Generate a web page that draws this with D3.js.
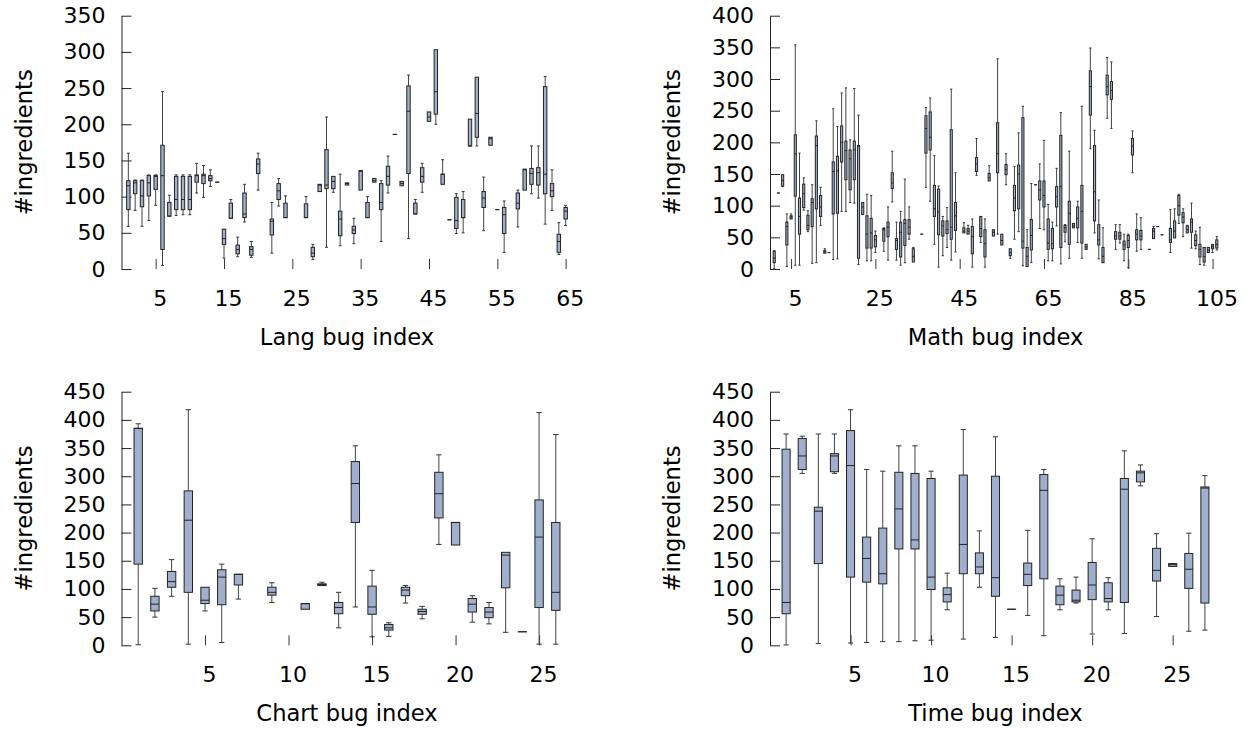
<!DOCTYPE html>
<html><head><meta charset="utf-8">
<script src="https://cdn.jsdelivr.net/npm/d3@7"></script>
<style>
html,body{margin:0;padding:0;background:#fff;}
svg text{font-family:"DejaVu Sans",Verdana,sans-serif;fill:#000;}
</style></head>
<body>
<svg id="c" width="1250" height="732"></svg>
<script>
// Columns: [bug index, whisker low, Q1, median, Q3, whisker high]
const langBoxes = [
[1,59,82,115,122,160],[2,81,104,119,122,123],[3,59,86,101,122,123],[4,67,101,119,129,130],
[5,88,110,128,129,130],[6,5,27,129,171,245],[7,73,73,73,92,102],[8,74,82,96,128,130],
[9,75,82,96,128,130],[10,75,82,96,128,130],[11,105,120,129,130,146],[12,99,118,129,131,143],
[13,114,122,125,129,137],[14,120,120,120,120,120],[15,15,34,42,55,55],[16,70,70,70,91,96],
[17,17,21,27,33,44],[18,65,71,76,105,117],[19,16,19,27,31,38],[20,109,132,145,152,160],
[22,22,47,66,69,92],[23,87,96,108,118,125],[24,71,71,71,91,101],[27,71,71,71,90,100],
[28,13,17,22,30,34],[29,107,107,116,117,117],[30,30,111,116,165,210],[31,106,111,121,128,128],
[32,32,46,69,80,131],[33,116,116,118,119,119],[34,35,49,54,59,70],[35,109,109,135,136,136],
[36,71,71,71,92,100],[37,120,120,122,125,125],[38,38,82,92,118,122],[39,105,116,128,142,156],
[40,186,186,186,186,186],[41,115,115,118,121,121],[42,42,132,218,253,268],[43,76,76,76,91,96],
[44,106,120,128,140,146],[45,204,204,210,217,217],[46,200,214,245,303,303],[47,117,117,131,131,151],
[48,68,68,68,68,68],[49,49,56,67,99,104],[50,50,71,71,96,107],[51,170,170,170,207,207],
[52,170,182,215,265,265],[53,53,85,98,107,127],[54,171,171,180,182,182],[55,82,82,82,82,82],
[56,23,49,75,85,94],[58,58,83,91,105,109],[59,109,109,137,138,138],[60,104,117,132,139,170],
[61,98,116,133,140,170],[62,62,104,131,252,266],[63,81,100,108,118,137],[64,20,23,38,48,64],
[65,60,69,80,85,88]
];
const mathBoxes = [
[1,0.5,10,17,28,29],[2,120,120,120,120,120],[3,130,131,140,149,149],[4,4,38,67,74,87],
[5,79,79,82,84,87],[6,6,115,182,212,354],[7,6,55,83,112,183],[8,93,97,119,134,144],
[9,59,62,69,85,92],[10,9,67,105,111,133],[11,10,95,195,210,234],[12,69,83,98,116,129],
[13,25,25,27,29,32],[14,26,26,26,26,26],[15,15,87,154,169,253],[16,16,88,155,178,225],
[17,91,169,200,226,278],[18,91,141,187,202,286],[19,105,125,174,188,204],[20,104,141,188,202,285],
[21,7,17,194,195,243],[22,86,86,98,105,105],[23,13,33,55,84,118],[24,13,33,57,80,116],
[25,26,35,46,53,60],[27,28,44,62,64,65],[28,14,51,66,74,98],[29,106,127,136,152,186],
[30,14,31,45,48,74],[31,6,19,58,74,91],[32,10,37,72,78,142],[33,47,55,66,78,98],
[34,11,11,20,32,34],[36,55,55,55,55,55],[37,129,183,222,242,255],[38,107,188,208,248,270],
[39,39,83,95,132,179],[40,3,54,90,126,131],[41,21,52,68,76,83],[42,34,56,62,76,97],
[43,14,47,66,220,284],[44,27,61,84,105,152],[46,57,57,60,65,73],[47,55,55,60,64,69],
[48,3,24,51,67,79],[49,148,154,166,176,206],[50,42,51,64,83,83],[51,3,19,40,62,79],
[52,139,139,144,151,163],[53,52,52,58,62,62],[54,55,152,182,231,332],[55,38,38,45,55,55],
[56,133,149,157,165,182],[57,17,21,26,32,32],[58,47,92,112,132,162],[59,59,95,150,164,215],
[60,5,33,44,239,257],[61,4,4,20,34,62],[62,10,30,53,78,135],[63,133,133,133,133,133],
[64,64,109,125,139,166],[65,62,98,116,139,203],[66,13,31,41,79,102],[67,13,32,40,64,74],
[68,68,98,114,130,159],[69,8,34,130,211,247],[70,43,58,65,69,70],[71,17,39,88,107,186],
[72,65,65,68,72,72],[73,42,65,80,98,107],[74,17,41,91,132,257],[75,31,31,35,39,39],
[76,190,243,288,313,349],[77,57,76,122,195,219],[78,16,38,46,70,109],[79,10,10,20,34,65],
[80,238,275,288,306,334],[81,222,268,282,296,327],[82,31,47,52,59,70],[83,41,47,52,58,70],
[84,13,31,38,44,55],[85,2,34,45,53,55],[86,152,180,194,206,218],[87,28,46,55,62,87],
[88,31,46,52,61,81],[90,31,31,31,31,31],[91,48,48,60,64,67],[92,67,67,67,67,67],
[93,54,54,54,54,54],[95,26,42,46,64,94],[96,49,49,60,76,95],[97,72,85,100,116,118],
[98,51,73,82,89,95],[99,57,57,62,68,69],[100,33,58,74,79,104],[101,32,37,45,54,60],
[102,7,19,31,39,66],[103,6,11,20,34,34],[104,26,26,30,34,34],[105,26,32,35,38,39],
[106,30,33,39,46,51]
];
const chartBoxes = [
[1,1,144,385,385,393],[2,50,61,73,87,101],[3,87,103,113,131,152],[4,2,94,222,274,418],
[5,61,74,80,103,103],[6,5,72,121,134,144],[7,82,107,126,126,126],[9,76,89,94,103,111],
[11,64,64,74,74,74],[12,106,106,108,109,112],[13,31,56,67,76,94],[14,68,218,287,326,354],
[15,15,55,68,105,133],[16,16,27,31,37,40],[17,75,88,98,103,106],[18,47,55,60,64,69],
[19,179,226,269,307,338],[20,178,178,218,218,218],[21,41,59,73,83,88],[22,38,49,59,67,76],
[23,23,102,160,165,165],[24,24,24,24,24,24],[25,2,67,192,258,413],[26,2,62,94,218,374]
];
const timeBoxes = [
[1,0.6,56,76,348,375],[2,305,312,336,367,371],[3,3,145,238,245,375],[4,305,308,336,340,375],
[5,4,121,319,381,418],[6,5,112,154,192,312],[7,6.5,109,127,208,309],[8,6.5,171,242,307,354],
[9,8,171,187,305,354],[10,9,99,121,296,309],[11,63,77,90,102,128],[12,11,127,179,302,383],
[13,103,127,139,164,203],[14,14,87,120,300,370],[15,64,64,64,64,64],[16,53,106,126,146,204],
[17,17,118,275,303,312],[18,63,72,89,105,118],[19,75,77,80,98,121],[20,20,81,107,147,189],
[21,63,77,83,111,120],[22,21,76,277,296,345],[23,283,290,306,309,320],[24,51,114,133,172,198],
[25,140,140,143,145,145],[26,25,101,135,163,199],[27,27,75,279,281,301]
];
const langXTicks = [5,15,25,35,45,55,65];
const mathXTicks = [5,25,45,65,85,105];
const chartXTicks = [5,10,15,20,25];
const timeXTicks = [5,10,15,20,25];
const yLabel = "#ingredients";

const svg = d3.select("#c");
const PW = 451;
const FS = 22;
const TFS = 22.6;

function panel(opt){
  const g = svg.append("g");
  const x = d3.scaleLinear().domain([0, opt.xMax]).range([opt.left, opt.left + PW]);
  const y = d3.scaleLinear().domain([0, opt.yMax]).range([opt.bottom, opt.top]);
  const step = x(1) - x(0);
  const bw = step * 0.5;
  const cw = step * 0.25 + 1.2;

  const ya = g.append("g").attr("transform", `translate(${opt.left},0)`)
    .call(d3.axisLeft(y).tickValues(d3.range(0, opt.yMax + 1, 50)).tickSizeInner(-10).tickSizeOuter(0).tickPadding(16));
  ya.attr("font-family", null).attr("font-size", null);
  ya.selectAll("text").style("font-size", FS + "px");
  ya.select(".domain").attr("stroke", "#222");
  ya.selectAll(".tick line").attr("stroke", "#222");

  const xa = g.append("g").attr("transform", `translate(0,${opt.bottom})`)
    .call(d3.axisBottom(x).tickValues(opt.xTicks).tickSizeInner(-10).tickSizeOuter(0).tickPadding(21));
  xa.attr("font-family", null).attr("font-size", null);
  xa.select(".domain").remove();
  xa.selectAll(".tick line").attr("stroke", "#333");
  xa.selectAll("text").style("font-size", FS + "px").attr("x", 4);

  g.append("text").attr("x", opt.left + PW / 2).attr("y", opt.bottom + 76)
    .attr("text-anchor", "middle").style("font-size", TFS + "px").text(opt.title);
  g.append("text").attr("transform", `translate(${opt.left - 90},${(opt.top + opt.bottom) / 2}) rotate(-90)`)
    .attr("text-anchor", "middle").style("font-size", TFS + "px").text(yLabel);

  const b = g.append("g").selectAll("g").data(opt.data).join("g");
  b.append("line").attr("x1", d => x(d[0])).attr("x2", d => x(d[0]))
    .attr("y1", d => y(d[5])).attr("y2", d => y(d[4])).attr("stroke", "#444").attr("stroke-width", 1);
  b.append("line").attr("x1", d => x(d[0])).attr("x2", d => x(d[0]))
    .attr("y1", d => y(d[2])).attr("y2", d => y(d[1])).attr("stroke", "#444").attr("stroke-width", 1);
  b.filter(d => d[5] > d[4]).append("line").attr("x1", d => x(d[0]) - cw / 2).attr("x2", d => x(d[0]) + cw / 2)
    .attr("y1", d => y(d[5])).attr("y2", d => y(d[5])).attr("stroke", "#333");
  b.filter(d => d[1] < d[2]).append("line").attr("x1", d => x(d[0]) - cw / 2).attr("x2", d => x(d[0]) + cw / 2)
    .attr("y1", d => y(d[1])).attr("y2", d => y(d[1])).attr("stroke", "#333");
  b.append("rect").attr("x", d => x(d[0]) - bw / 2).attr("width", bw)
    .attr("y", d => y(d[4])).attr("height", d => Math.max(0.01, y(d[2]) - y(d[4])))
    .attr("fill", "#a0b0cc").attr("stroke", "#222").attr("stroke-width", 1);
  b.append("line").attr("x1", d => x(d[0]) - bw / 2).attr("x2", d => x(d[0]) + bw / 2)
    .attr("y1", d => y(d[3])).attr("y2", d => y(d[3])).attr("stroke", "#222").attr("stroke-width", 1);
}

panel({data: langBoxes, xMax: 66, yMax: 350, left: 121.5, top: 15.7, bottom: 269, xTicks: langXTicks, title: "Lang bug index"});
panel({data: mathBoxes, xMax: 107, yMax: 400, left: 770, top: 15.7, bottom: 269, xTicks: mathXTicks, title: "Math bug index"});
panel({data: chartBoxes, xMax: 27, yMax: 450, left: 121.5, top: 391.7, bottom: 645.3, xTicks: chartXTicks, title: "Chart bug index"});
panel({data: timeBoxes, xMax: 28, yMax: 450, left: 770, top: 391.7, bottom: 645.3, xTicks: timeXTicks, title: "Time bug index"});
</script>
</body></html>
